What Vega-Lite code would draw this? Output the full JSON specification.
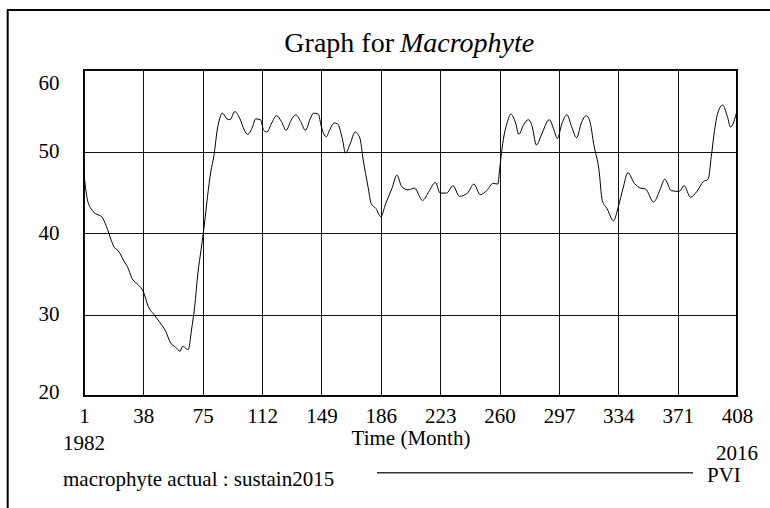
{
  "$schema": "https://vega.github.io/schema/vega-lite/v6.json",
  "width": 653,
  "height": 326,
  "autosize": {"type": "none"},
  "padding": {"left": 84, "top": 70, "right": 33, "bottom": 112},
  "background": "white",
  "config": {
    "view": {"stroke": "black", "strokeWidth": 2},
    "font": "'Liberation Serif', 'Times New Roman', Times, serif"
  },
  "datasets": {
    "series": [
      {"month": 1, "macrophyte": 47.3}, {"month": 2, "macrophyte": 45.5}, {"month": 3, "macrophyte": 44.2},
      {"month": 6, "macrophyte": 42.8}, {"month": 9, "macrophyte": 42.3}, {"month": 12, "macrophyte": 42.0},
      {"month": 15, "macrophyte": 40.8}, {"month": 18, "macrophyte": 39.1}, {"month": 20, "macrophyte": 38.2},
      {"month": 22, "macrophyte": 37.9}, {"month": 24, "macrophyte": 37.3}, {"month": 26, "macrophyte": 36.5},
      {"month": 28, "macrophyte": 35.9}, {"month": 31, "macrophyte": 34.4}, {"month": 35, "macrophyte": 33.6},
      {"month": 38, "macrophyte": 32.8}, {"month": 41, "macrophyte": 31.0}, {"month": 45, "macrophyte": 29.9},
      {"month": 48, "macrophyte": 29.1}, {"month": 52, "macrophyte": 27.9}, {"month": 55, "macrophyte": 26.5},
      {"month": 58, "macrophyte": 26.0}, {"month": 61, "macrophyte": 25.5}, {"month": 62, "macrophyte": 26.0},
      {"month": 63, "macrophyte": 26.1}, {"month": 64, "macrophyte": 25.9}, {"month": 66, "macrophyte": 25.7},
      {"month": 68, "macrophyte": 28.1}, {"month": 70, "macrophyte": 31.0}, {"month": 72, "macrophyte": 35.1},
      {"month": 74, "macrophyte": 38.0}, {"month": 76, "macrophyte": 41.0}, {"month": 78, "macrophyte": 44.5},
      {"month": 80, "macrophyte": 47.5}, {"month": 82, "macrophyte": 49.5}, {"month": 84, "macrophyte": 52.6},
      {"month": 86, "macrophyte": 54.3}, {"month": 87, "macrophyte": 54.7}, {"month": 88, "macrophyte": 54.6},
      {"month": 90, "macrophyte": 54.0}, {"month": 92, "macrophyte": 53.9}, {"month": 95, "macrophyte": 54.9},
      {"month": 98, "macrophyte": 54.1}, {"month": 101, "macrophyte": 52.6}, {"month": 103, "macrophyte": 52.1},
      {"month": 106, "macrophyte": 53.0}, {"month": 108, "macrophyte": 54.0}, {"month": 111, "macrophyte": 53.9},
      {"month": 113, "macrophyte": 52.6}, {"month": 115, "macrophyte": 52.4}, {"month": 118, "macrophyte": 53.5},
      {"month": 121, "macrophyte": 54.4}, {"month": 124, "macrophyte": 53.7}, {"month": 127, "macrophyte": 52.6},
      {"month": 130, "macrophyte": 53.8}, {"month": 133, "macrophyte": 54.5}, {"month": 136, "macrophyte": 53.7},
      {"month": 139, "macrophyte": 52.6}, {"month": 142, "macrophyte": 54.0}, {"month": 144, "macrophyte": 54.7},
      {"month": 147, "macrophyte": 54.6}, {"month": 149, "macrophyte": 53.0}, {"month": 152, "macrophyte": 51.8},
      {"month": 154, "macrophyte": 52.6}, {"month": 157, "macrophyte": 53.5}, {"month": 159, "macrophyte": 53.4},
      {"month": 162, "macrophyte": 51.6}, {"month": 164, "macrophyte": 49.8}, {"month": 167, "macrophyte": 51.0},
      {"month": 170, "macrophyte": 52.4}, {"month": 173, "macrophyte": 51.6}, {"month": 175, "macrophyte": 49.0},
      {"month": 178, "macrophyte": 45.7}, {"month": 180, "macrophyte": 43.6}, {"month": 183, "macrophyte": 43.0},
      {"month": 186, "macrophyte": 42.0}, {"month": 189, "macrophyte": 43.6}, {"month": 193, "macrophyte": 45.5},
      {"month": 196, "macrophyte": 47.1}, {"month": 199, "macrophyte": 45.7}, {"month": 203, "macrophyte": 45.3},
      {"month": 207, "macrophyte": 45.5}, {"month": 212, "macrophyte": 44.0}, {"month": 216, "macrophyte": 45.1},
      {"month": 220, "macrophyte": 46.2}, {"month": 223, "macrophyte": 44.9}, {"month": 227, "macrophyte": 44.9},
      {"month": 231, "macrophyte": 45.8}, {"month": 235, "macrophyte": 44.5}, {"month": 240, "macrophyte": 44.9},
      {"month": 244, "macrophyte": 46.0}, {"month": 248, "macrophyte": 44.7}, {"month": 252, "macrophyte": 45.2},
      {"month": 256, "macrophyte": 46.1}, {"month": 259, "macrophyte": 46.0}, {"month": 260, "macrophyte": 47.7},
      {"month": 262, "macrophyte": 51.0}, {"month": 265, "macrophyte": 53.7}, {"month": 267, "macrophyte": 54.6},
      {"month": 270, "macrophyte": 53.5}, {"month": 272, "macrophyte": 52.1}, {"month": 275, "macrophyte": 53.3},
      {"month": 278, "macrophyte": 53.9}, {"month": 280, "macrophyte": 53.3}, {"month": 283, "macrophyte": 50.8},
      {"month": 286, "macrophyte": 52.0}, {"month": 291, "macrophyte": 53.9}, {"month": 294, "macrophyte": 52.6},
      {"month": 296, "macrophyte": 51.6}, {"month": 299, "macrophyte": 53.5}, {"month": 302, "macrophyte": 54.5},
      {"month": 305, "macrophyte": 53.0}, {"month": 308, "macrophyte": 51.7}, {"month": 311, "macrophyte": 53.5},
      {"month": 314, "macrophyte": 54.4}, {"month": 316, "macrophyte": 53.9}, {"month": 319, "macrophyte": 50.6},
      {"month": 322, "macrophyte": 47.7}, {"month": 324, "macrophyte": 44.0}, {"month": 327, "macrophyte": 43.0},
      {"month": 331, "macrophyte": 41.5}, {"month": 334, "macrophyte": 43.2}, {"month": 337, "macrophyte": 45.5},
      {"month": 340, "macrophyte": 47.4}, {"month": 344, "macrophyte": 46.1}, {"month": 348, "macrophyte": 45.5},
      {"month": 351, "macrophyte": 45.4}, {"month": 356, "macrophyte": 43.8}, {"month": 360, "macrophyte": 45.3},
      {"month": 363, "macrophyte": 46.6}, {"month": 367, "macrophyte": 45.2}, {"month": 372, "macrophyte": 45.1},
      {"month": 375, "macrophyte": 45.8}, {"month": 379, "macrophyte": 44.4}, {"month": 383, "macrophyte": 45.1},
      {"month": 387, "macrophyte": 46.3}, {"month": 390, "macrophyte": 46.6}, {"month": 392, "macrophyte": 49.4},
      {"month": 394, "macrophyte": 52.6}, {"month": 396, "macrophyte": 54.7}, {"month": 399, "macrophyte": 55.7},
      {"month": 402, "macrophyte": 54.3}, {"month": 404, "macrophyte": 53.0}, {"month": 408, "macrophyte": 55.0}
    ],
    "one": [{}]
  },
  "layer": [
    {
      "data": {"name": "series"},
      "mark": {"type": "line", "color": "black", "strokeWidth": 1, "interpolate": "monotone"},
      "encoding": {
        "x": {
          "field": "month", "type": "quantitative",
          "scale": {"domain": [1, 408], "nice": false, "zero": false},
          "axis": {
            "values": [1, 38, 75, 112, 149, 186, 223, 260, 297, 334, 371, 408],
            "title": "Time (Month)",
            "titleFont": "'Liberation Serif', 'Times New Roman', Times, serif", "titleFontSize": 21, "titleFontWeight": "normal", "titleColor": "black",
            "titleBaseline": "alphabetic", "titleY": 48,
            "labelFont": "'Liberation Serif', 'Times New Roman', Times, serif", "labelFontSize": 21, "labelColor": "black",
            "labelPadding": 9, "labelFlush": false, "labelOverlap": false,
            "domain": false, "ticks": false,
            "grid": true, "gridColor": "#111", "gridWidth": 1, "gridOpacity": 1
          }
        },
        "y": {
          "field": "macrophyte", "type": "quantitative",
          "scale": {"domain": [20, 60], "nice": false, "zero": false},
          "axis": {
            "values": [20, 30, 40, 50, 60],
            "title": null,
            "labelFont": "'Liberation Serif', 'Times New Roman', Times, serif", "labelFontSize": 21, "labelColor": "black",
            "labelPadding": 25, "labelFlush": false, "labelOverlap": false, "labelBaseline": "middle",
            "labelOffset": {"condition": [{"test": "datum.value == 60", "value": 13}, {"test": "datum.value == 20", "value": -4}], "value": 0},
            "domain": false, "ticks": false,
            "grid": true, "gridColor": "#111", "gridWidth": 1, "gridOpacity": 1
          }
        }
      }
    },
    {
      "data": {"name": "one"},
      "mark": {"type": "rect", "fill": "transparent", "stroke": "black", "strokeWidth": 2},
      "encoding": {
        "x": {"datum": -46.56, "type": "quantitative"},
        "x2": {"datum": 447.3},
        "y": {"datum": 67.36, "type": "quantitative"},
        "y2": {"datum": 2.33}
      }
    },
    {
      "data": {"name": "one"},
      "mark": {"type": "text", "text": "Graph for", "font": "'Liberation Serif', 'Times New Roman', Times, serif", "fontSize": 28, "align": "right", "baseline": "alphabetic", "color": "black"},
      "encoding": {
        "x": {"datum": 194.2, "type": "quantitative"},
        "y": {"datum": 62.21, "type": "quantitative"}
      }
    },
    {
      "data": {"name": "one"},
      "mark": {"type": "text", "text": "Macrophyte", "font": "'Liberation Serif', 'Times New Roman', Times, serif", "fontSize": 28, "fontStyle": "italic", "align": "left", "baseline": "alphabetic", "color": "black"},
      "encoding": {
        "x": {"datum": 197.96, "type": "quantitative"},
        "y": {"datum": 62.21, "type": "quantitative"}
      }
    },
    {
      "data": {"name": "one"},
      "mark": {"type": "text", "text": "1982", "font": "'Liberation Serif', 'Times New Roman', Times, serif", "fontSize": 21, "align": "left", "baseline": "alphabetic", "color": "black"},
      "encoding": {
        "x": {"datum": -12.09, "type": "quantitative"},
        "y": {"datum": 13.37, "type": "quantitative"}
      }
    },
    {
      "data": {"name": "one"},
      "mark": {"type": "text", "text": "2016", "font": "'Liberation Serif', 'Times New Roman', Times, serif", "fontSize": 21, "align": "right", "baseline": "alphabetic", "color": "black"},
      "encoding": {
        "x": {"datum": 421.09, "type": "quantitative"},
        "y": {"datum": 12.09, "type": "quantitative"}
      }
    },
    {
      "data": {"name": "one"},
      "mark": {"type": "text", "text": "macrophyte actual : sustain2015", "font": "'Liberation Serif', 'Times New Roman', Times, serif", "fontSize": 21, "align": "left", "baseline": "alphabetic", "color": "black"},
      "encoding": {
        "x": {"datum": -12.09, "type": "quantitative"},
        "y": {"datum": 8.96, "type": "quantitative"}
      }
    },
    {
      "data": {"name": "one"},
      "mark": {"type": "rule", "color": "#333", "strokeWidth": 1.5},
      "encoding": {
        "x": {"datum": 183.6, "type": "quantitative"},
        "x2": {"datum": 380.6},
        "y": {"datum": 10.59, "type": "quantitative"}
      }
    },
    {
      "data": {"name": "one"},
      "mark": {"type": "text", "text": "PVI", "font": "'Liberation Serif', 'Times New Roman', Times, serif", "fontSize": 21, "align": "left", "baseline": "alphabetic", "color": "black"},
      "encoding": {
        "x": {"datum": 389.3, "type": "quantitative"},
        "y": {"datum": 9.39, "type": "quantitative"}
      }
    }
  ]
}
